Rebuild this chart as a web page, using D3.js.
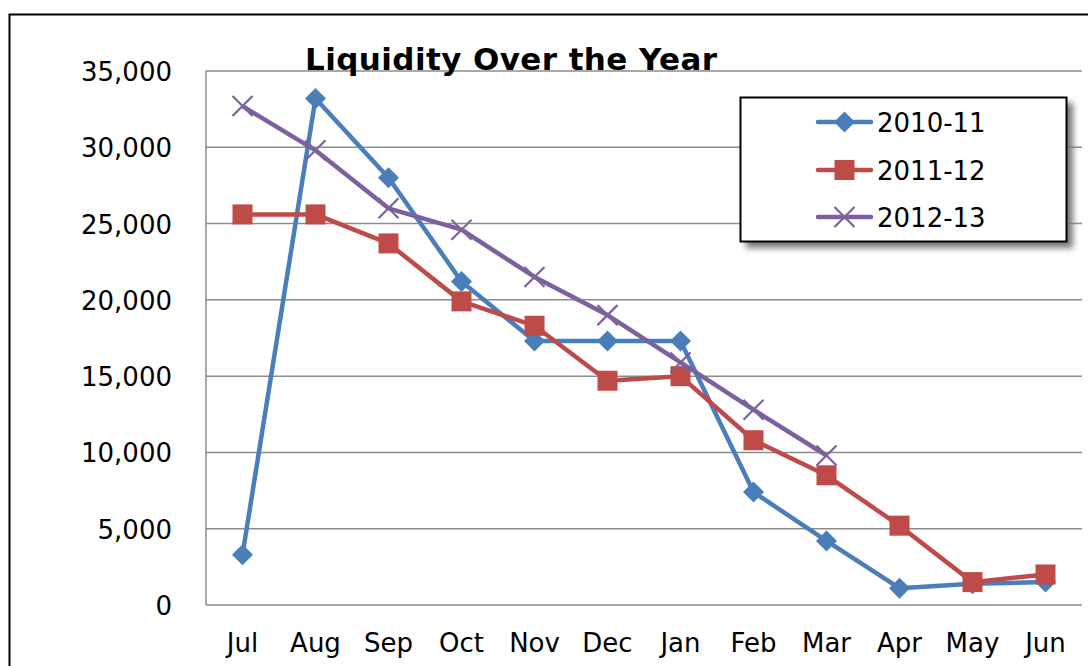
<!DOCTYPE html>
<html><head><meta charset="utf-8">
<script src="https://cdn.jsdelivr.net/npm/d3@7"></script>
<style>body{margin:0;background:#fff;} svg{display:block;}</style>
</head><body>
<svg id="c" width="1088" height="666"></svg>
<script>
const categories = ["Jul","Aug","Sep","Oct","Nov","Dec","Jan","Feb","Mar","Apr","May","Jun"];
const s2010 = [3300,33200,28000,21200,17300,17300,17300,7400,4200,1100,1400,1500];
const s2011 = [25600,25600,23700,19900,18300,14700,15000,10800,8500,5200,1500,2000];
const s2012 = [32700,29800,26000,24600,21500,19000,15900,12800,9800];
const seriesNames = ["2010-11","2011-12","2012-13"];
const yTicks = [0,5000,10000,15000,20000,25000,30000,35000];
const title = "Liquidity Over the Year";

const colors = ["#4a7ebb","#be4b48","#7d60a0"];
const markers = ["diamond","square","x"];
const series = [s2010,s2011,s2012];

const svg = d3.select("#c");
const font = "'DejaVu Sans', Verdana, sans-serif";

const defs = svg.append("defs");
const f = defs.append("filter").attr("id","sh").attr("x","-10%").attr("y","-10%").attr("width","130%").attr("height","140%");
f.append("feGaussianBlur").attr("stdDeviation",3);

// outer border
svg.append("rect").attr("x",9.5).attr("y",14.5).attr("width",1100).attr("height",700)
  .attr("fill","#fff").attr("stroke","#000").attr("stroke-width",2);

const L=206, R=1082, T=71, B=605;
const x = d3.scaleBand().domain(categories).range([L,R]);
const y = d3.scaleLinear().domain([0,35000]).range([B,T]);

// gridlines
svg.append("g").selectAll("line").data(yTicks).join("line")
  .attr("x1",L).attr("x2",R).attr("y1",d=>y(d)).attr("y2",d=>y(d))
  .attr("stroke","#8c8c8c").attr("stroke-width",1.5);
// left axis line
svg.append("line").attr("x1",L).attr("x2",L).attr("y1",T).attr("y2",B).attr("stroke","#8c8c8c").attr("stroke-width",1.5);

// y axis labels
const fmt = d3.format(",");
svg.append("g").selectAll("text").data(yTicks).join("text")
  .attr("x",172).attr("y",d=>y(d)+10).attr("text-anchor","end")
  .attr("font-family",font).attr("font-size",26).attr("fill","#000")
  .text(d=>fmt(d));
// x axis labels
svg.append("g").selectAll("text").data(categories).join("text")
  .attr("x",d=>x(d)+x.bandwidth()/2).attr("y",652).attr("text-anchor","middle")
  .attr("font-family",font).attr("font-size",26).attr("fill","#000")
  .text(d=>d);

function drawMarker(g, type, cx, cy, color){
  if(type==="diamond"){
    g.append("path").attr("d",`M${cx},${cy-10.5}L${cx+10.5},${cy}L${cx},${cy+10.5}L${cx-10.5},${cy}Z`).attr("fill",color);
  } else if(type==="square"){
    g.append("rect").attr("x",cx-10).attr("y",cy-10).attr("width",20).attr("height",20).attr("fill",color);
  } else {
    g.append("path").attr("d",`M${cx-10},${cy-10}L${cx+10},${cy+10}M${cx-10},${cy+10}L${cx+10},${cy-10}`)
      .attr("stroke",color).attr("stroke-width",2.2).attr("fill","none");
  }
}

const line = d3.line().x((d,i)=>x(categories[i])+x.bandwidth()/2).y(d=>y(d));
series.forEach((s,k)=>{
  const g = svg.append("g");
  g.append("path").datum(s).attr("d",line).attr("fill","none")
    .attr("stroke",colors[k]).attr("stroke-width",4.5).attr("stroke-linejoin","round");
  s.forEach((v,i)=>drawMarker(g, markers[k], x(categories[i])+x.bandwidth()/2, y(v), colors[k]));
});

// title
svg.append("text").attr("x",305).attr("y",70)
  .attr("font-family",font).attr("font-weight","bold").attr("font-size",31).attr("fill","#000")
  .attr("textLength",412).attr("lengthAdjust","spacing")
  .text(title);

// legend
const lg = svg.append("g");
lg.append("rect").attr("x",746).attr("y",103).attr("width",327).attr("height",145).attr("fill","#777").attr("filter","url(#sh)");
lg.append("rect").attr("x",740.5).attr("y",97.5).attr("width",326).attr("height",144).attr("fill","#fff").attr("stroke","#000").attr("stroke-width",2);
const ly = [122,170,217];
seriesNames.forEach((n,k)=>{
  lg.append("line").attr("x1",818).attr("x2",871).attr("y1",ly[k]).attr("y2",ly[k])
    .attr("stroke",colors[k]).attr("stroke-width",4.5).attr("stroke-linecap","round");
  drawMarker(lg, markers[k], 844.5, ly[k], colors[k]);
  lg.append("text").attr("x",877).attr("y",ly[k]+10).attr("font-family",font).attr("font-size",26).attr("fill","#000").text(n);
});
</script>
</body></html>
